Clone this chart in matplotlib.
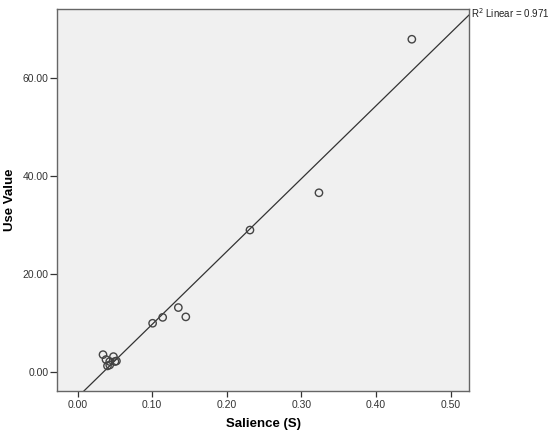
import numpy as np
import matplotlib
matplotlib.use("Agg")
import matplotlib.pyplot as plt

# Salience (S) vs Use Value
salience = [0.448, 0.3235, 0.231, 0.135, 0.145, 0.114, 0.1005,
            0.034, 0.038, 0.048, 0.043, 0.050, 0.052, 0.040, 0.043]
use_value = [67.9, 36.6, 29.0, 13.2, 11.3, 11.2, 10.0,
             3.6, 2.6, 3.2, 2.2, 2.2, 2.3, 1.3, 1.5]

x_ticks = [0.0, 0.1, 0.2, 0.3, 0.4, 0.5]
y_ticks = [0.0, 20.0, 40.0, 60.0]
r2_label = "R$^2$ Linear = 0.971"

plt.rcParams['font.family'] = ['Liberation Sans', 'DejaVu Sans']

fig = plt.figure(figsize=(5.5, 4.36), dpi=100)
ax = fig.add_axes([0.1036, 0.1039, 0.7496, 0.8755])
ax.set_facecolor('#f0f0f0')

xmin, xmax = -0.0277, 0.525
ymin, ymax = -3.75, 74.07

# linear fit over the whole axis range, as SPSS draws it
slope, intercept = np.polyfit(salience, use_value, 1)
xs = np.array([xmin, xmax])
ax.plot(xs, slope * xs + intercept, color='#333333', lw=0.9, zorder=2)

ax.scatter(salience, use_value, s=28, facecolors='none',
           edgecolors='#444444', linewidths=1.0, zorder=3)

ax.set_xlim(xmin, xmax)
ax.set_ylim(ymin, ymax)
ax.set_xticks(x_ticks)
ax.set_xticklabels([f"{t:.2f}" for t in x_ticks])
ax.set_yticks(y_ticks)
ax.set_yticklabels([f"{t:.2f}" for t in y_ticks])
ax.tick_params(labelsize=7.5, colors='#333333', width=0.9)
ax.tick_params(axis='y', length=5, pad=1)
ax.tick_params(axis='x', length=4, pad=2.5)

for sp in ax.spines.values():
    sp.set_color('#666666')
    sp.set_linewidth(1.0)

ax.set_xlabel("Salience (S)", fontsize=9.5, fontweight='bold', labelpad=6)
ax.set_ylabel("Use Value", fontsize=9.5, fontweight='bold', labelpad=5)

ax.text(1.004, 0.99, r2_label, transform=ax.transAxes, fontsize=7,
        ha='left', va='center', color='#222222')

fig.savefig("out.png", dpi=100)
